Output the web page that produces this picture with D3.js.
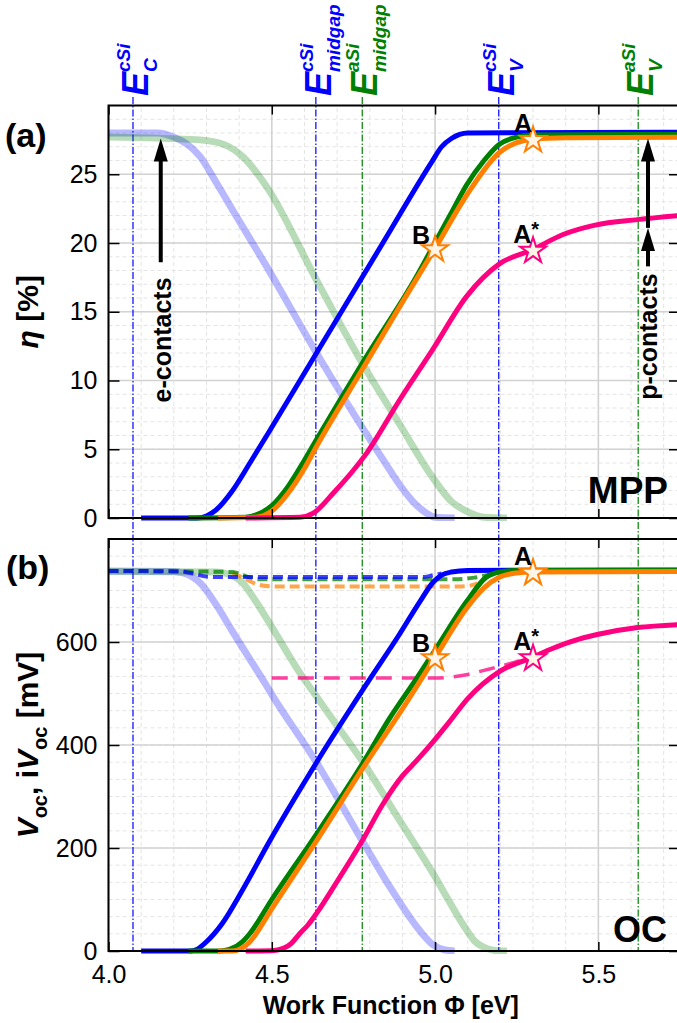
<!DOCTYPE html>
<html>
<head>
<meta charset="utf-8">
<script src="https://cdnjs.cloudflare.com/ajax/libs/d3/7.8.5/d3.min.js"></script>
<style>
  body { margin: 0; background: #fff; }
  svg { display: block; font-family: "Liberation Sans", Arial, sans-serif; }
</style>
</head>
<body>
<div id="chart"></div>
<script>

// ---- data: [work function (eV), value] ----

// (a) efficiency eta [%] at MPP
var eta_econ_cSi = [[4.0,28.0],[4.15,28.0],[4.2,27.7],[4.24,27.2],[4.28,26.3],[4.33,24.4],[4.38,22.4],[4.484,18.3],[4.637,12.0],[4.79,6.1],[4.85,3.9],[4.892,2.4],[4.94,1.0],[4.974,0.35],[5.0,0.05],[5.06,0]];
var eta_econ_aSi = [[4.0,27.7],[4.28,27.5],[4.36,27.1],[4.41,26.3],[4.484,24.1],[4.637,17.3],[4.777,11.25],[4.892,6.8],[4.994,2.9],[5.05,1.2],[5.096,0.5],[5.15,0.05],[5.22,0]];
var eta_blue   = [[4.1,0],[4.27,0],[4.3,0.15],[4.33,0.6],[4.38,2.0],[4.433,4.0],[4.5,6.6],[4.637,12.0],[4.84,20.0],[4.99,25.9],[5.02,27.0],[5.05,27.6],[5.1,28.0],[5.75,28.05]];
var eta_green  = [[4.245,0],[4.42,0.05],[4.46,0.3],[4.5,0.9],[4.55,2.3],[4.6,4.2],[4.637,5.7],[4.777,11.25],[4.944,17.6],[5.004,20.2],[5.05,22.2],[5.096,24.2],[5.15,26.0],[5.198,27.2],[5.25,27.7],[5.3,27.85],[5.75,27.9]];
var eta_orange = [[4.335,0],[4.45,0.05],[4.5,0.5],[4.55,1.8],[4.6,3.6],[4.637,5.2],[4.777,10.8],[4.9,15.7],[5.0,19.6],[5.1,23.6],[5.198,26.6],[5.25,27.3],[5.3,27.55],[5.4,27.65],[5.75,27.7]];
var eta_pink   = [[4.42,0],[4.586,0.05],[4.627,0.35],[4.688,1.8],[4.79,4.7],[4.892,8.6],[4.994,12.3],[5.096,16.1],[5.198,18.5],[5.297,19.5],[5.39,20.6],[5.49,21.3],[5.62,21.7],[5.75,22.0]];

// (b) Voc (solid) and iVoc (dashed) [mV]
var voc_econ_cSi = [[4.0,738],[4.2,737],[4.229,734],[4.26,725],[4.28,715],[4.33,672],[4.38,620],[4.484,515],[4.505,493],[4.637,366],[4.777,214],[4.862,124],[4.92,68],[4.944,47],[4.994,12],[5.03,2],[5.06,0]];
var voc_econ_aSi = [[4.0,737],[4.33,736],[4.36,733],[4.39,725],[4.41,715],[4.45,680],[4.484,646],[4.586,540],[4.647,485],[4.688,448],[4.78,366],[4.892,253],[5.0,144],[5.04,100],[5.087,50],[5.12,20],[5.147,8],[5.2,0],[5.22,0]];
var voc_blue   = [[4.1,0],[4.25,0],[4.27,3],[4.3,18],[4.35,55],[4.41,118],[4.494,214],[4.637,366],[4.79,518],[4.892,616],[4.953,678],[4.994,716],[5.02,730],[5.05,736],[5.1,739],[5.75,740]];
var voc_green  = [[4.245,0],[4.34,0],[4.37,3],[4.41,18],[4.433,34],[4.5,100],[4.637,227],[4.78,366],[4.862,453],[4.944,530],[5.004,588],[5.096,678],[5.157,726],[5.198,736],[5.25,739],[5.75,739]];
var voc_orange = [[4.335,0],[4.38,0],[4.41,6],[4.433,18],[4.5,82],[4.637,214],[4.78,356],[4.9,470],[5.0,570],[5.096,665],[5.15,705],[5.198,726],[5.25,734],[5.297,736],[5.75,737]];
var voc_pink   = [[4.42,0],[4.5,0.5],[4.535,5],[4.56,15],[4.586,34],[4.61,50],[4.637,73],[4.7,135],[4.777,214],[4.84,285],[4.9,340],[4.944,370],[5.004,414],[5.045,446],[5.1,490],[5.198,543],[5.297,570],[5.35,585],[5.443,606],[5.5,615],[5.62,628],[5.75,634]];
var ivoc_blue   = [[4.0,738],[4.22,737],[4.26,733],[4.3,727],[4.35,726],[4.96,726],[4.99,729],[5.02,733]];
var ivoc_green  = [[4.0,738],[4.38,736],[4.42,728],[4.46,722],[5.07,722],[5.12,725],[5.17,731]];
var ivoc_orange = [[4.38,735],[4.42,722],[4.46,711],[4.5,708],[5.08,708],[5.11,710],[5.13,714]];
var ivoc_pink   = [[4.5,530],[5.0,530],[5.05,532],[5.1,537],[5.15,545],[5.2,553],[5.25,562],[5.3,570]];

// marked points
var stars_a = [["A",5.3,27.55,"#ff8000"],["B",5.0,19.6,"#ff8000"],["A*",5.3,19.5,"#ff0080"]];
var stars_b = [["A",5.3,736,"#ff8000"],["B",5.0,570,"#ff8000"],["A*",5.3,570,"#ff0080"]];

// band edges [eV]
var band_phi   = [4.075, 4.635, 4.777, 5.195, 5.622];
var band_sup   = ["cSi", "cSi", "aSi", "cSi", "aSi"];
var band_sub   = ["C", "midgap", "midgap", "V", "V"];
var band_color = ["#0000ff", "#0000ff", "#008000", "#0000ff", "#008000"];

// ticks
var x_major = [4.0, 4.5, 5.0, 5.5];
var x_minor = d3.range(4.0, 5.75, 0.1);
var eta_major = [0, 5, 10, 15, 20, 25];
var eta_minor = d3.range(0, 30.01, 1);
var voc_major = [0, 200, 400, 600];
var voc_minor = d3.range(0, 800.1, 200 / 6);


var chart_width  = 677;
var chart_height = 1023;

var svg = d3.select('#chart')
  .append('svg')
  .attr('width', chart_width)
  .attr('height', chart_height);

var x_scale = d3.scaleLinear().domain([4.0, 5.75]).range([108.5, 680]);
var y_a = d3.scaleLinear().domain([0, 30]).range([518, 105.5]);
var y_b = d3.scaleLinear().domain([0, 800]).range([951, 539]);

var clip = svg.append('defs');
clip.append('clipPath').attr('id', 'clip_a')
  .append('rect').attr('x', 108.5).attr('y', 80).attr('width', 572).attr('height', 441);
clip.append('clipPath').attr('id', 'clip_b')
  .append('rect').attr('x', 108.5).attr('y', 530).attr('width', 572).attr('height', 424);


function grid(y, y_major, y_minor) {
  var g = svg.append('g');
  var y0 = y.range()[0], y1 = y.range()[1];
  var x0 = x_scale.range()[0], x1 = x_scale.range()[1];

  g.selectAll('.vmin').data(x_minor).enter().append('line')
    .attr('x1', d => x_scale(d)).attr('x2', d => x_scale(d))
    .attr('y1', y0).attr('y2', y1)
    .attr('stroke', '#e4e4e4').attr('stroke-width', 1).attr('stroke-dasharray', '4,3');
  g.selectAll('.hmin').data(y_minor).enter().append('line')
    .attr('x1', x0).attr('x2', x1)
    .attr('y1', d => y(d)).attr('y2', d => y(d))
    .attr('stroke', '#e4e4e4').attr('stroke-width', 1).attr('stroke-dasharray', '4,3');
  g.selectAll('.vmaj').data(x_major).enter().append('line')
    .attr('x1', d => x_scale(d)).attr('x2', d => x_scale(d))
    .attr('y1', y0).attr('y2', y1)
    .attr('stroke', '#d2d2d2').attr('stroke-width', 1.6);
  g.selectAll('.hmaj').data(y_major).enter().append('line')
    .attr('x1', x0).attr('x2', x1)
    .attr('y1', d => y(d)).attr('y2', d => y(d))
    .attr('stroke', '#d2d2d2').attr('stroke-width', 1.6);
}

grid(y_a, eta_major, eta_minor);
grid(y_b, voc_major, voc_minor);

// band edge lines, running through both panels
svg.selectAll('.band').data(band_phi).enter().append('line')
  .attr('x1', d => x_scale(d)).attr('x2', d => x_scale(d))
  .attr('y1', 97).attr('y2', 951)
  .attr('stroke', (d, i) => band_color[i])
  .attr('stroke-width', 1.2)
  .attr('stroke-dasharray', '7,2,1.5,2');

band_phi.forEach(function(phi, i) {
  var g = svg.append('g')
    .attr('transform', 'translate(' + (x_scale(phi) + 15) + ',96) rotate(-90)')
    .attr('fill', band_color[i])
    .attr('font-weight', 'bold')
    .attr('font-style', 'italic');
  g.append('text').attr('x', 0).attr('y', 0).attr('font-size', 36).text('E');
  g.append('text').attr('x', 24).attr('y', -18).attr('font-size', 19).text(band_sup[i]);
  g.append('text').attr('x', 24).attr('y', 9).attr('font-size', 19).text(band_sub[i]);
});


var line_a = d3.line().x(d => x_scale(d[0])).y(d => y_a(d[1])).curve(d3.curveMonotoneX);
var line_b = d3.line().x(d => x_scale(d[0])).y(d => y_b(d[1])).curve(d3.curveMonotoneX);

function curve(g, gen, data, color, width, opacity, dash) {
  var p = g.append('path')
    .attr('d', gen(data))
    .attr('fill', 'none')
    .attr('stroke', color)
    .attr('stroke-width', width)
    .attr('stroke-opacity', opacity)
    .attr('stroke-linejoin', 'round');
  if (dash) p.attr('stroke-dasharray', dash);
  return p;
}

var ga = svg.append('g').attr('clip-path', 'url(#clip_a)');
curve(ga, line_a, eta_econ_cSi, '#0000ff', 7, 0.28);
curve(ga, line_a, eta_econ_aSi, '#008000', 7, 0.28);
curve(ga, line_a, eta_blue, '#0000ff', 5, 1);
curve(ga, line_a, eta_green, '#008000', 5, 1);
curve(ga, line_a, eta_orange, '#ff8000', 5, 1);
curve(ga, line_a, eta_pink, '#ff0080', 5, 1);

var gb = svg.append('g').attr('clip-path', 'url(#clip_b)');
curve(gb, line_b, voc_econ_cSi, '#0000ff', 7, 0.28);
curve(gb, line_b, voc_econ_aSi, '#008000', 7, 0.28);
curve(gb, line_b, ivoc_orange, '#ff8000', 4, 0.7, '10,5');
curve(gb, line_b, ivoc_green, '#008000', 4, 0.75, '10,5');
curve(gb, line_b, ivoc_blue, '#0000ff', 4, 0.75, '10,5');
curve(gb, line_b, ivoc_pink, '#ff0080', 3.5, 0.75, '16,10');
curve(gb, line_b, voc_blue, '#0000ff', 5, 1);
curve(gb, line_b, voc_green, '#008000', 5, 1);
curve(gb, line_b, voc_orange, '#ff8000', 5, 1);
curve(gb, line_b, voc_pink, '#ff0080', 5, 1);


// frames and inward ticks
function axes(y, y_major, y_minor, labels_x) {
  var yr = y.range();
  var g = svg.append('g');

  var bottom = g.append('g').attr('transform', 'translate(0,' + yr[0] + ')');
  bottom.call(d3.axisBottom(x_scale).tickValues(x_minor).tickSize(-5).tickFormat(''));
  bottom.call(d3.axisBottom(x_scale).tickValues(x_major).tickSize(-9).tickPadding(14)
    .tickFormat(labels_x ? d3.format('.1f') : ''));

  var top = g.append('g').attr('transform', 'translate(0,' + yr[1] + ')');
  top.call(d3.axisTop(x_scale).tickValues(x_minor).tickSize(-5).tickFormat(''));
  top.call(d3.axisTop(x_scale).tickValues(x_major).tickSize(-9).tickFormat(''));

  var left = g.append('g').attr('transform', 'translate(' + x_scale.range()[0] + ',0)');
  left.call(d3.axisLeft(y).tickValues(y_minor).tickSize(-6).tickFormat(''));
  left.call(d3.axisLeft(y).tickValues(y_major).tickSize(-11).tickPadding(11).tickFormat(d3.format('d')));

  var right = g.append('g').attr('transform', 'translate(' + x_scale.range()[1] + ',0)');
  right.call(d3.axisRight(y).tickValues(y_minor).tickSize(-6).tickFormat(''));
  right.call(d3.axisRight(y).tickValues(y_major).tickSize(-11).tickFormat(''));

  g.selectAll('.domain').remove();
  g.selectAll('.tick line').attr('stroke', '#000').attr('stroke-width', 1.5);
  g.selectAll('.tick text').attr('font-size', 25).attr('fill', '#000')
    .attr('font-family', '"Liberation Sans", Arial, sans-serif');

  g.append('rect')
    .attr('x', x_scale.range()[0]).attr('y', yr[1])
    .attr('width', x_scale.range()[1] - x_scale.range()[0])
    .attr('height', yr[0] - yr[1])
    .attr('fill', 'none').attr('stroke', '#000').attr('stroke-width', 2);
}

axes(y_a, eta_major, eta_minor, false);
axes(y_b, voc_major, voc_minor, true);


// star markers with letters
var star = d3.symbol().type(d3.symbolStar).size(210);

function stars(y, data) {
  var g = svg.append('g');
  g.selectAll('path').data(data).enter().append('path')
    .attr('d', star)
    .attr('transform', d => 'translate(' + x_scale(d[1]) + ',' + (y(d[2]) + 1) + ')')
    .attr('fill', '#fff4e6')
    .attr('stroke', d => d[3])
    .attr('stroke-width', 2);
  g.selectAll('text').data(data).enter().append('text')
    .attr('x', d => x_scale(d[1]) + (d[0] === 'A' ? -1 : d[0] === 'B' ? -5 : 6))
    .attr('y', d => y(d[2]) - (d[0] === 'B' ? 5 : 7))
    .attr('text-anchor', 'end')
    .attr('font-size', 25)
    .attr('font-weight', 'bold')
    .each(function(d) {
      var t = d3.select(this);
      t.append('tspan').text(d[0].charAt(0));
      if (d[0] === 'A*') t.append('tspan').attr('dy', -7).attr('font-size', 20).text('*');
    });
}

stars(y_a, stars_a);
stars(y_b, stars_b);


// contact arrows
function arrow(phi, from, to) {
  var x = x_scale(phi), y0 = y_a(from), y1 = y_a(to);
  svg.append('line')
    .attr('x1', x).attr('x2', x).attr('y1', y0).attr('y2', y1 + 18)
    .attr('stroke', '#000').attr('stroke-width', 4);
  svg.append('path')
    .attr('d', 'M' + x + ',' + y1 + 'L' + (x - 7) + ',' + (y1 + 23) + 'L' + (x + 7) + ',' + (y1 + 23) + 'Z')
    .attr('fill', '#000');
}

arrow(4.16, 18.6, 27.6);
arrow(5.652, 18.3, 21.1);
arrow(5.652, 21.1, 27.6);

svg.append('text')
  .attr('transform', 'translate(' + (x_scale(4.16) + 10) + ',' + y_a(8.4) + ') rotate(-90)')
  .attr('font-size', 25).attr('font-weight', 'bold')
  .text('e-contacts');
svg.append('text')
  .attr('transform', 'translate(' + (x_scale(5.652) + 9) + ',' + y_a(8.6) + ') rotate(-90)')
  .attr('font-size', 25).attr('font-weight', 'bold')
  .text('p-contacts');


// panel labels and titles
svg.append('text').attr('x', 5).attr('y', 147).attr('font-size', 34).attr('font-weight', 'bold').text('(a)');
svg.append('text').attr('x', 6).attr('y', 579).attr('font-size', 34).attr('font-weight', 'bold').text('(b)');

svg.append('text').attr('x', 668).attr('y', 503).attr('text-anchor', 'end')
  .attr('font-size', 37).attr('font-weight', 'bold').text('MPP');
svg.append('text').attr('x', 667).attr('y', 942).attr('text-anchor', 'end')
  .attr('font-size', 36).attr('font-weight', 'bold').text('OC');

svg.append('text')
  .attr('x', (x_scale.range()[0] + 677) / 2 - 2).attr('y', 1014)
  .attr('text-anchor', 'middle')
  .attr('font-size', 25).attr('font-weight', 'bold')
  .text('Work Function \u03A6 [eV]');

var ta = svg.append('text')
  .attr('transform', 'translate(38,' + ((y_a.range()[0] + y_a.range()[1]) / 2) + ') rotate(-90)')
  .attr('text-anchor', 'middle')
  .attr('font-size', 30).attr('font-weight', 'bold');
ta.append('tspan').attr('font-style', 'italic').text('\u03B7');
ta.append('tspan').text(' [%]');

var tb = svg.append('text')
  .attr('transform', 'translate(38,' + ((y_b.range()[0] + y_b.range()[1]) / 2) + ') rotate(-90)')
  .attr('text-anchor', 'middle')
  .attr('font-size', 30).attr('font-weight', 'bold');
tb.append('tspan').attr('font-style', 'italic').text('V');
tb.append('tspan').attr('font-size', 20).attr('dy', 9).text('oc');
tb.append('tspan').attr('dy', -9).text(', i');
tb.append('tspan').attr('font-style', 'italic').text('V');
tb.append('tspan').attr('font-size', 20).attr('dy', 9).text('oc');
tb.append('tspan').attr('dy', -9).text(' [mV]');

</script>
</body>
</html>
